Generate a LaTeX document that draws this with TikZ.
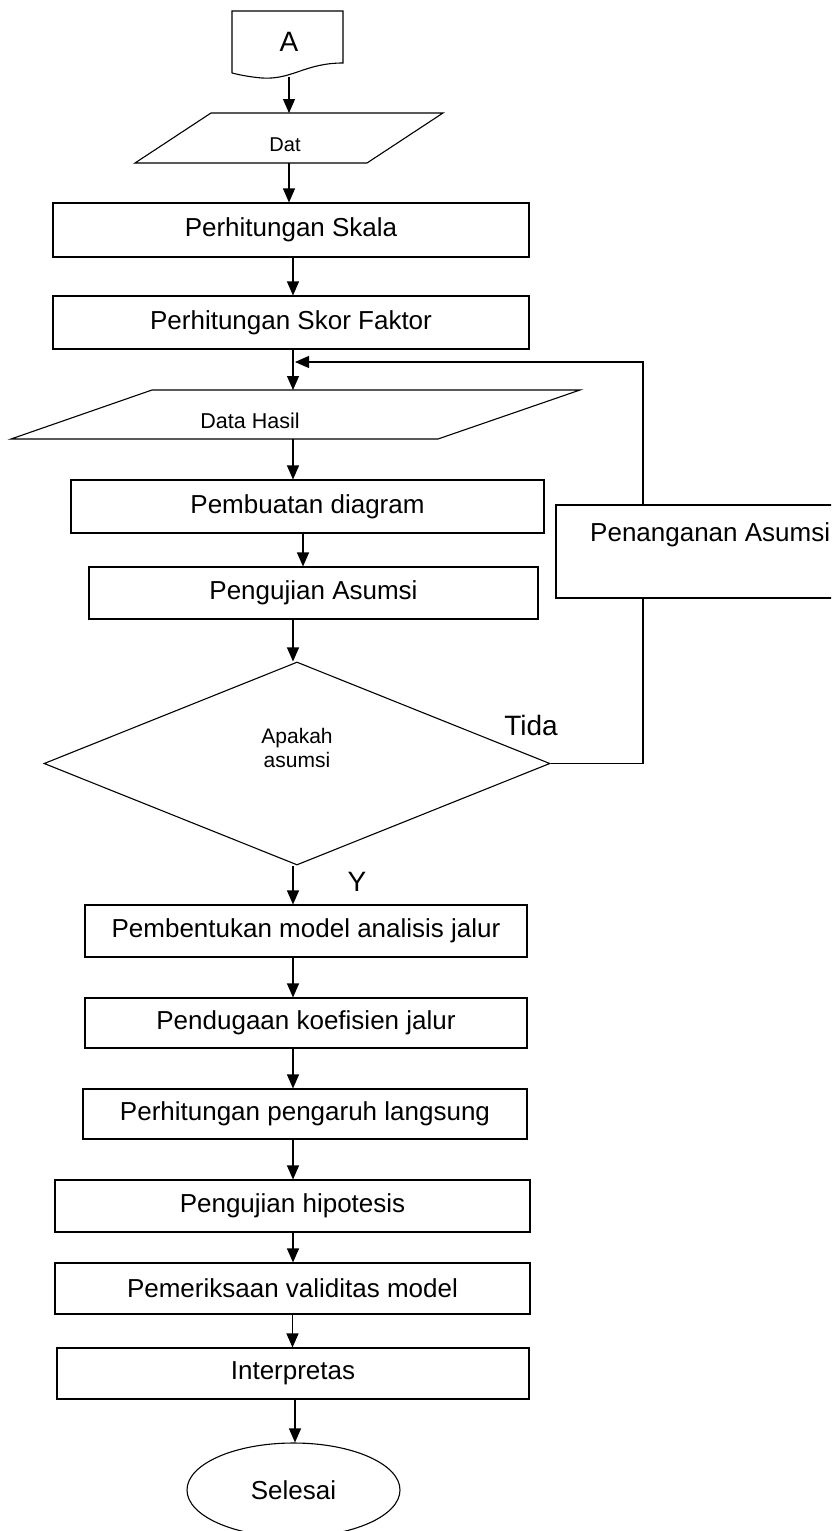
\documentclass[tikz,border=0pt]{standalone}
\usepackage{fontspec}
\setmainfont{Liberation Sans}
\usetikzlibrary{shapes.geometric,arrows.meta}

\begin{document}
\begin{tikzpicture}[x=1pt,y=-1pt,
  garis/.style={line width=1.1pt},
  kotak/.style={draw,line width=1.1pt,fill=white,inner sep=0pt,
    font=\fontsize{26}{31}\selectfont},
  panah/.style={line width=1.1pt,-{Triangle[length=14pt,width=12pt]}},
  teks/.style={inner sep=0pt}]

\newcommand\XK{293}

\useasboundingbox (0,0) rectangle (831,1531);
\clip (0,0) rectangle (831,1531);

%% awal
\draw[garis,fill=white] (232,73) -- (232,11) -- (343,11) -- (343,63)
  .. controls (305,63) and (292,80) .. (262,78)
  .. controls (250,77) and (240,75) .. (232,73);
\node[teks,font=\fontsize{28}{32}\selectfont] (mulai) at (289,42) {A};
\coordinate (mulaibawah) at (289,77);

%% data
\draw[garis] (135,163) -- (211,113) -- (443,113) -- (367,163) -- cycle;
\node[teks,font=\fontsize{20}{24}\selectfont] (dat) at (285,145) {Dat};
\coordinate (datatas) at (289,113);
\coordinate (datbawah) at (289,163);

\draw[panah] (mulaibawah) -- (datatas);

%%
\node[kotak,minimum width=476pt,minimum height=54pt] (skala) at (291,230) {Perhitungan Skala};
\node[kotak,minimum width=476pt,minimum height=53pt] (skor) at (291,322.5) {Perhitungan Skor Faktor};

\draw[panah] (datbawah) -- (datbawah |- skala.north);
\draw[panah] ([xshift=2pt]skala.south) -- ([xshift=2pt]skala.south |- skor.north);

%% data hasil
\draw[garis] (11,439) -- (152,390) -- (580,390) -- (438,439) -- cycle;
\node[teks,font=\fontsize{21.5}{25}\selectfont] (hasil) at (250,421) {Data Hasil};
\coordinate (hasilatas) at (\XK,390);
\coordinate (hasilbawah) at (\XK,439);
\coordinate (balik) at (\XK+2,362);

\draw[panah] ([xshift=2pt]skor.south) -- (hasilatas);

%%
\node[kotak,minimum width=473pt,minimum height=53pt] (diagram) at (307.5,506.5) {Pembuatan diagram};
\node[kotak,minimum width=449pt,minimum height=52pt] (ujiasumsi) at (313.5,593) {Pengujian Asumsi};

\draw[panah] (hasilbawah) -- (hasilbawah |- diagram.north);
\draw[panah] ([xshift=-4.5pt]diagram.south) -- ([xshift=-4.5pt]diagram.south |- ujiasumsi.north);

%% keputusan
\node[draw,diamond,line width=1.1pt,minimum width=506pt,minimum height=203pt,inner sep=0pt] (asumsi) at (297,763.5) {};
\node[teks,font=\fontsize{21}{24}\selectfont,align=center] (tanya) at (297,748) {Apakah\\asumsi};
\node[teks,font=\fontsize{28}{32}\selectfont] (tidak) at (531,725) {Tida};
\node[teks,font=\fontsize{28}{32}\selectfont] (ya) at (357,882) {Y};

\draw[panah] ([xshift=-20.5pt]ujiasumsi.south) -- ([xshift=-20.5pt]ujiasumsi.south |- asumsi.north);

%% penanganan
\coordinate (penatas) at (643,505);
\coordinate (penbawah) at (643,598);
\draw[garis] (asumsi.east) -| (penbawah);
\draw[panah] (penatas) |- (balik);
\node[kotak,minimum width=300pt,minimum height=93pt] (penanganan) at (706,551.5) {};
\node[teks,font=\fontsize{26}{31}\selectfont,anchor=base west] (penanganantxt) at (590,541) {Penanganan Asumsi};

%% jalur
\node[kotak,minimum width=442pt,minimum height=52pt] (model) at (306,931) {Pembentukan model analisis jalur};
\node[kotak,minimum width=442pt,minimum height=50pt] (koef) at (306,1023) {Pendugaan koefisien jalur};
\node[kotak,minimum width=444pt,minimum height=50pt] (langsung) at (305,1114) {Perhitungan pengaruh langsung};
\node[kotak,minimum width=475pt,minimum height=52pt] (hipotesis) at (292.5,1206) {Pengujian hipotesis};
\node[kotak,minimum width=475pt,minimum height=51pt] (validitas) at (292.5,1288.5) {Pemeriksaan validitas model};
\node[kotak,minimum width=472pt,minimum height=51pt] (interpretas) at (293,1373.5) {Interpretas};
\node[kotak,ellipse,minimum width=213pt,minimum height=94pt] (selesai) at (293.5,1490) {Selesai};

\draw[panah] ([xshift=-4pt]asumsi.south) -- ([xshift=-4pt]asumsi.south |- model.north);
\draw[panah] ([xshift=-13pt]model.south) -- ([xshift=-13pt]model.south |- koef.north);
\draw[panah] ([xshift=-13pt]koef.south) -- ([xshift=-13pt]koef.south |- langsung.north);
\draw[panah] ([xshift=-12pt]langsung.south) -- ([xshift=-12pt]langsung.south |- hipotesis.north);
\draw[panah] ([xshift=0.5pt]hipotesis.south) -- ([xshift=0.5pt]hipotesis.south |- validitas.north);
\draw[panah] (validitas.south) -- (validitas.south |- interpretas.north);
\draw[panah] ([xshift=2pt]interpretas.south) -- ([xshift=2pt]interpretas.south |- selesai.north);

\end{tikzpicture}
\end{document}
